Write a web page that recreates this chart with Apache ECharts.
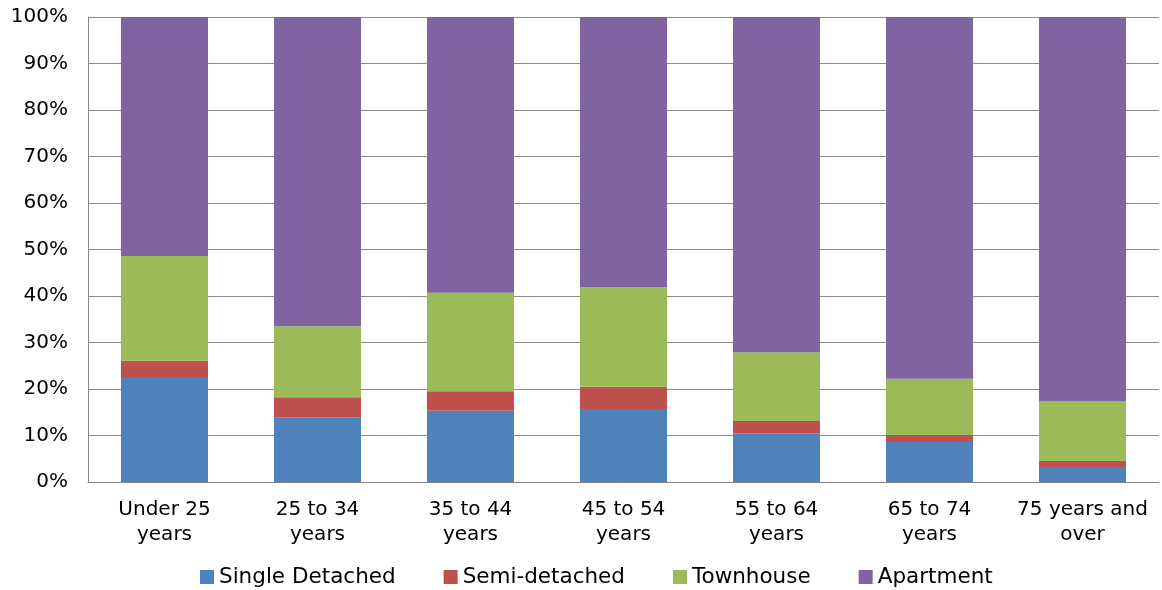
<!DOCTYPE html>
<html>
<head>
<meta charset="utf-8">
<script src="https://cdn.jsdelivr.net/npm/echarts@6/dist/echarts.min.js"></script>
<style>
  html, body { margin: 0; padding: 0; background: #fff; }
  #chart { width: 1162px; height: 590px; }
</style>
</head>
<body>
<div id="chart"></div>
<script>
// age groups of household maintainer
const categories = [
  'Under 25\nyears', '25 to 34\nyears', '35 to 44\nyears', '45 to 54\nyears',
  '55 to 64\nyears', '65 to 74\nyears', '75 years and\nover'
];

// share of dwelling type, percent
const singleDetached = [22.6, 13.9, 15.3, 15.7, 10.5, 8.6, 3.2];
const semiDetached = [3.5, 4.3, 4.2, 4.8, 2.6, 1.5, 1.3];
const townhouse = [22.5, 15.3, 21.2, 21.4, 14.8, 12.1, 12.8];
const apartment = [51.4, 66.5, 59.3, 58.1, 72.1, 77.8, 82.7];

const font = '"DejaVu Sans", Verdana, sans-serif';
const textColor = '#000';

function bar(name, data, color) {
  return {
    name,
    type: 'bar',
    stack: 'total',
    data,
    barWidth: 87,
    itemStyle: { color },
  };
}

const chart = echarts.init(document.getElementById('chart'));
chart.setOption({
  animation: false,
  backgroundColor: '#fff',
  textStyle: { fontFamily: font, color: textColor },
  grid: { left: 88, right: 3, top: 17, bottom: 108, containLabel: false },
  legend: {
    left: 200,
    top: 566,
    padding: 0,
    itemWidth: 14,
    itemHeight: 14,
    itemGap: 48,
    icon: 'rect',
    textStyle: { fontFamily: font, fontSize: 21.5, color: textColor },
  },
  xAxis: {
    type: 'category',
    data: categories,
    axisLine: { show: true, lineStyle: { color: '#868686', width: 1 } },
    axisTick: { show: false },
    axisLabel: {
      fontFamily: font,
      fontSize: 20,
      color: textColor,
      lineHeight: 25,
      margin: 15,
      interval: 0,
    },
  },
  yAxis: {
    type: 'value',
    min: 0,
    max: 100,
    interval: 10,
    axisLine: { show: true, lineStyle: { color: '#868686', width: 1 } },
    axisTick: { show: false },
    splitLine: { show: true, lineStyle: { color: '#8c8c8c', width: 1 } },
    axisLabel: {
      fontFamily: font,
      fontSize: 20,
      color: textColor,
      margin: 20,
      formatter: '{value}%',
    },
  },
  series: [
    bar('Single Detached', singleDetached, '#4f81bd'),
    bar('Semi-detached', semiDetached, '#c0504d'),
    bar('Townhouse', townhouse, '#9bbb59'),
    bar('Apartment', apartment, '#8064a2'),
  ],
});
</script>
</body>
</html>
